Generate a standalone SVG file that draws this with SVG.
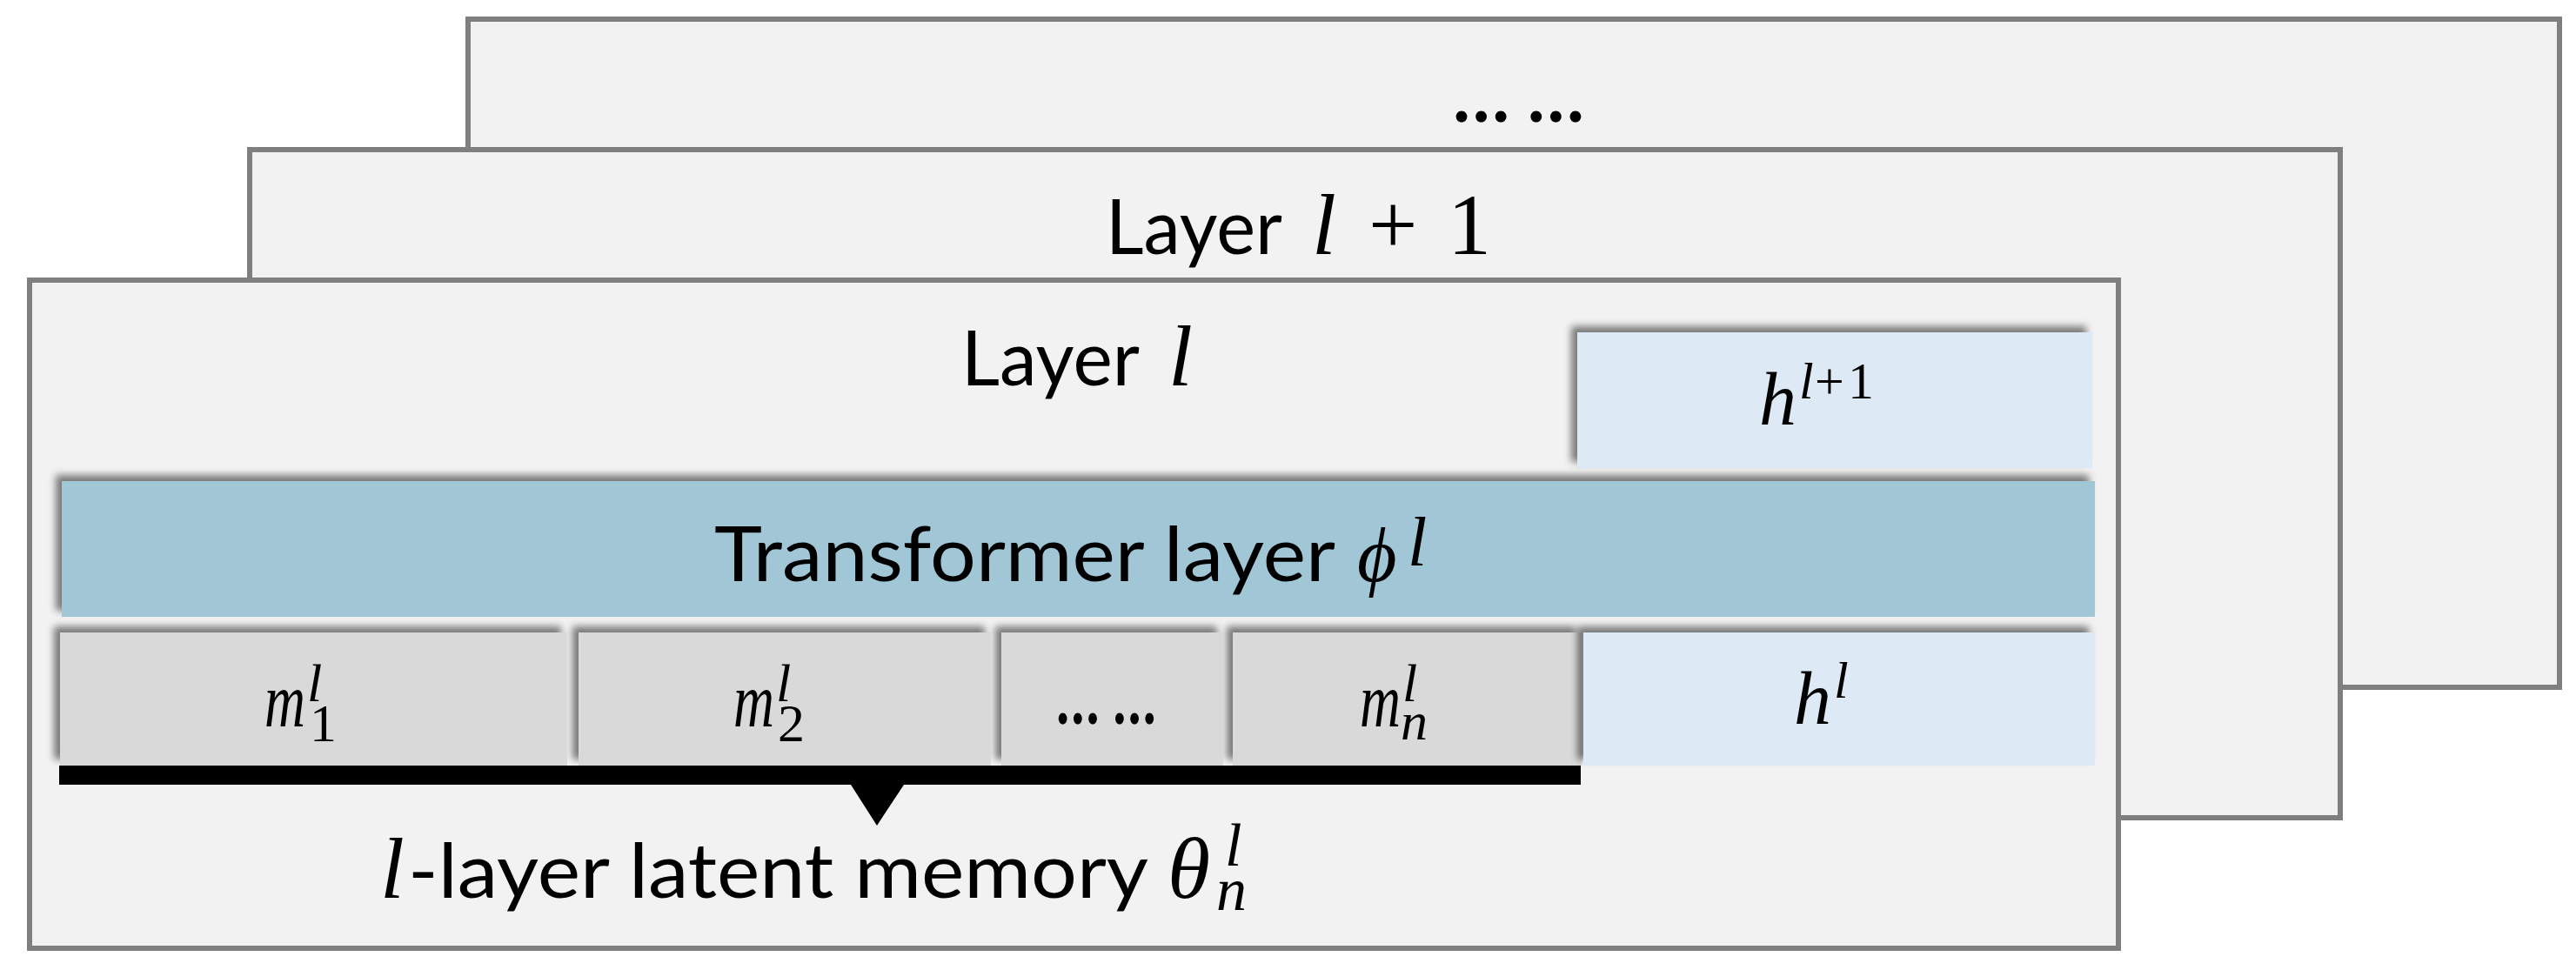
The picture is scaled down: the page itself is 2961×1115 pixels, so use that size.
<svg xmlns="http://www.w3.org/2000/svg" width="2961" height="1115" viewBox="0 0 2961 1115">
  <defs>
    <style>
      .frame { fill: #f2f2f2; stroke: #7f7f7f; stroke-width: 6; }
      .tf { fill: #a1c6d6; }
      .hid { fill: #ddeaf6; }
      .mem { fill: #d9d9d9; }
      .sans { font-family: Lato, 'Liberation Sans', sans-serif; font-style: normal; font-size: 87px; fill: #000; }
      .math { font-family: 'Liberation Serif', 'DejaVu Serif', serif; font-style: italic; fill: #000; }
      .up { font-family: 'Liberation Serif', 'DejaVu Serif', serif; font-style: normal; fill: #000; }
      .dots { font-weight: bold; }
    </style>
    <!-- soft shadow cast toward the top-left -->
    <filter id="shadowTL" x="-10%" y="-30%" width="120%" height="160%">
      <feGaussianBlur in="SourceAlpha" stdDeviation="4"/>
      <feOffset dx="-7" dy="-7" result="off"/>
      <feComponentTransfer>
        <feFuncA type="linear" slope="0.5"/>
      </feComponentTransfer>
      <feMerge>
        <feMergeNode/>
        <feMergeNode in="SourceGraphic"/>
      </feMerge>
    </filter>
  </defs>

  <rect width="2961" height="1115" fill="#ffffff"/>

  <!-- stacked layer frames, back to front -->
  <g id="layer-more">
    <rect class="frame" x="538" y="22" width="2404" height="768"/>
    <text class="sans dots" x="1670" y="140" textLength="151" lengthAdjust="spacingAndGlyphs">… …</text>
  </g>

  <g id="layer-next">
    <rect class="frame" x="287" y="172" width="2403" height="768"/>
    <text class="sans" x="1271" y="292"><tspan textLength="203" lengthAdjust="spacingAndGlyphs">Layer</tspan><tspan class="math" x="1508" font-size="100">l</tspan><tspan class="up" x="1573" font-size="100">+</tspan><tspan class="up" x="1664" font-size="100">1</tspan></text>
  </g>

  <g id="layer-l">
    <rect class="frame" x="34" y="322" width="2401" height="768"/>
    <text class="sans" x="1105" y="443"><tspan textLength="205" lengthAdjust="spacingAndGlyphs">Layer</tspan><tspan class="math" x="1343" font-size="100">l</tspan></text>
  </g>

  <!-- hidden state passed to the next layer -->
  <g id="hidden-next" filter="url(#shadowTL)">
    <rect class="hid" x="1813" y="382" width="592" height="156"/>
    <text class="math" x="2022" y="488" font-size="86">h<tspan x="2068" y="458" font-size="60">l</tspan><tspan class="up" x="2086" font-size="60">+</tspan><tspan class="up" x="2124" font-size="60">1</tspan></text>
  </g>

  <g id="transformer" filter="url(#shadowTL)">
    <rect class="tf" x="71" y="553" width="2337" height="156"/>
    <text class="sans" x="821" y="668"><tspan textLength="714" lengthAdjust="spacingAndGlyphs">Transformer layer</tspan><tspan class="math" x="1560" font-size="88" font-family="'DejaVu Serif', serif">ϕ</tspan><tspan class="math" x="1618" y="650" font-size="80">l</tspan></text>
  </g>

  <!-- memory slots -->
  <g id="memory-n" filter="url(#shadowTL)">
    <rect class="mem" x="1417" y="727" width="401" height="153"/>
    <text class="math" x="1563" y="835" font-size="88"><tspan textLength="47" lengthAdjust="spacingAndGlyphs">m</tspan><tspan x="1612" y="806" font-size="62">l</tspan><tspan x="1610" y="850" font-size="62">n</tspan></text>
  </g>

  <g id="memory-ellipsis" filter="url(#shadowTL)">
    <rect class="mem" x="1151" y="727" width="255" height="153"/>
    <text class="sans dots" x="1214" y="832" font-size="66" textLength="115" lengthAdjust="spacingAndGlyphs">… …</text>
  </g>

  <g id="memory-2" filter="url(#shadowTL)">
    <rect class="mem" x="665" y="727" width="474" height="153"/>
    <text class="math" x="843" y="835" font-size="88"><tspan textLength="47" lengthAdjust="spacingAndGlyphs">m</tspan><tspan x="892" y="806" font-size="62">l</tspan><tspan class="up" x="894" y="852" font-size="62">2</tspan></text>
  </g>

  <g id="memory-1" filter="url(#shadowTL)">
    <rect class="mem" x="69" y="727" width="583" height="153"/>
    <text class="math" x="304" y="835" font-size="88"><tspan textLength="47" lengthAdjust="spacingAndGlyphs">m</tspan><tspan x="353" y="806" font-size="62">l</tspan><tspan class="up" x="356" y="852" font-size="62">1</tspan></text>
  </g>

  <!-- current hidden state -->
  <g id="hidden-cur" filter="url(#shadowTL)">
    <rect class="hid" x="1820" y="727" width="588" height="153"/>
    <text class="math" x="2062" y="832" font-size="86">h<tspan x="2108" y="802" font-size="60">l</tspan></text>
  </g>

  <!-- bracket collecting the memory slots, with its pointer -->
  <g id="connectors">
    <path d="M68,880 H1817 V902 H1039 L1008,949 L978,902 H68 Z" fill="#000"/>
  </g>

  <g id="memory-label">
    <text class="math" x="437" y="1032" font-size="100">l<tspan class="sans" x="469" textLength="851" lengthAdjust="spacingAndGlyphs">-layer latent memory</tspan><tspan x="1342">θ</tspan><tspan x="1408" y="995" font-size="70">l</tspan><tspan x="1398" y="1046" font-size="70">n</tspan></text>
  </g>
</svg>
